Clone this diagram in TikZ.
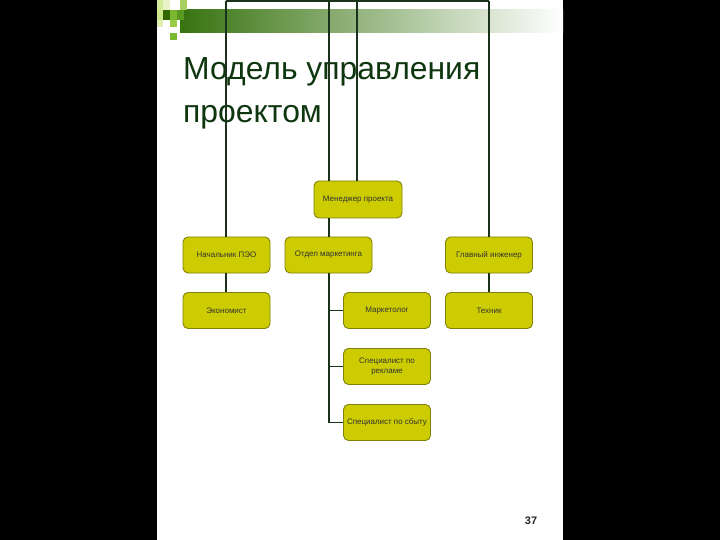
\documentclass[tikz,border=0pt]{standalone}
\usepackage{fontspec}
\setmainfont{Liberation Sans}
\definecolor{boxfill}{RGB}{204,204,0}
\definecolor{boxdraw}{RGB}{130,130,10}
\definecolor{linec}{RGB}{25,50,25}
\definecolor{titlec}{RGB}{15,55,15}
\definecolor{barc}{RGB}{55,115,15}
\begin{document}
\begin{tikzpicture}[x=1bp,y=-1bp,
  orgbox/.style={draw=boxdraw,fill=boxfill,line width=0.9bp,rounded corners=5bp,
    minimum width=87bp,minimum height=36bp,inner sep=1bp,align=center,
    font=\fontsize{8}{10}\selectfont,text=black!80},
  conn/.style={draw=linec,line width=1.8bp},
  titletext/.style={anchor=base west,inner sep=0,text=titlec,font=\fontsize{32}{38}\selectfont}]
\useasboundingbox (0,0) rectangle (720,540);
\fill[black] (0,0) rectangle (720,540);
\fill[white] (157,0) rectangle (563,540);
% header bar
\shade[left color=barc,right color=white] (180,10) rectangle (563,33);
\fill[color={rgb,255:red,212;green,236;blue,154}] (157,0) rectangle (163,10);
\fill[color={rgb,255:red,232;green,244;blue,200}] (163,0) rectangle (170,10);
\fill[color={rgb,255:red,168;green,208;blue,96}] (180,0) rectangle (187,10);
\fill[color={rgb,255:red,204;green,230;blue,140}] (157,10) rectangle (163,20);
\fill[color={rgb,255:red,51;green,102;blue,0}] (163,10) rectangle (170,20);
\fill[color={rgb,255:red,122;green,184;blue,48}] (170,10) rectangle (177,20);
\fill[color={rgb,255:red,90;green,154;blue,32}] (177,10) rectangle (184,20);
\fill[color={rgb,255:red,224;green,240;blue,176}] (157,20) rectangle (163,27);
\fill[color={rgb,255:red,153;green,204;blue,68}] (170,20) rectangle (177,27);
\fill[color={rgb,255:red,122;green,184;blue,48}] (170,33) rectangle (177,40);
% title
\node[titletext] (title1) at (183,80) {Модель управления};
\node[titletext] (title2) at (183,123) {проектом};
% boxes
\node[orgbox,minimum width=88bp,minimum height=37bp] (mgr) at (358,199.5) {Менеджер проекта};
\node[orgbox] (peo) at (226.5,255) {Начальник ПЭО};
\node[orgbox] (mkt) at (328.5,255) {Отдел маркетинга};
\node[orgbox] (eng) at (489,255) {Главный инженер};
\node[orgbox] (eco) at (226.5,310.5) {Экономист};
\node[orgbox] (mktr) at (387,310.5) {Маркетолог};
\node[orgbox] (tech) at (489,310.5) {Техник};
\node[orgbox] (adv) at (387,366.5) {Специалист по\\рекламе};
\node[orgbox] (sales) at (387,422.5) {Специалист по сбыту};
% connectors
\coordinate (t1) at (226,1);
\coordinate (t2) at (329,1);
\coordinate (t3) at (357,1);
\coordinate (t4) at (489,1);
\coordinate (bus) at (329,422.5);
\draw[conn] (t1) -- (t4);
\draw[conn] (t1) -- (t1 |- peo.north);
\draw[conn] (t2) -- (t2 |- mgr.north);
\draw[conn] (t3) -- (t3 |- mgr.north);
\draw[conn] (t4) -- (t4 |- eng.north);
\draw[conn] (mgr.south -| t2) -- (t2 |- mkt.north);
\draw[conn] (peo.south -| t1) -- (t1 |- eco.north);
\draw[conn] (eng.south) -- (tech.north);
\draw[conn] (mkt.south -| bus) -- (bus) -- (sales.west);
\draw[conn] (bus |- mktr.west) -- (mktr.west);
\draw[conn] (bus |- adv.west) -- (adv.west);
% page number
\node[font=\bfseries\fontsize{11}{13}\selectfont,text=black!85] (pnum) at (531,521) {37};
\end{tikzpicture}
\end{document}
